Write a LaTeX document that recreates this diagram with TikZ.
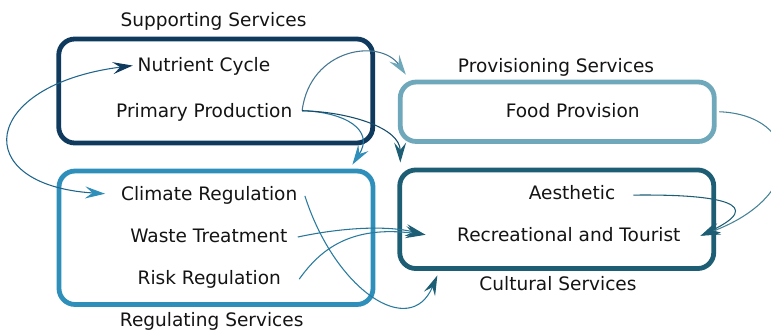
\documentclass[tikz,border=0pt]{standalone}
\usepackage{fontspec}
\setmainfont{DejaVu Sans}
\usetikzlibrary{arrows.meta}
\definecolor{navy}{RGB}{15,58,94}
\definecolor{provc}{RGB}{111,168,186}
\definecolor{regc}{RGB}{46,143,186}
\definecolor{cultc}{RGB}{30,94,117}
\definecolor{txt}{RGB}{20,20,20}
\begin{document}
\begin{tikzpicture}[x=0.75pt,y=-0.75pt,
  box/.style={draw=#1, line width=3.6pt, rounded corners=12pt, minimum width=235.5pt, inner sep=0pt, fill=white},
  lbl/.style={font=\fontsize{13.9}{16}\selectfont, inner sep=0pt, anchor=base, text=txt},
  edge/.style={line width=0.8pt, draw=#1},
  hd/.style={-{Stealth[length=15pt,width=9pt,inset=5.5pt,#1]}},
  hdtwo/.style 2 args={{Stealth[length=15pt,width=9pt,inset=5.5pt,#1]}-{Stealth[length=15pt,width=9pt,inset=5.5pt,#2]}}]
\useasboundingbox (0,0) rectangle (771,331);
\clip (0,0) rectangle (771,331);
% boxes
\node[box=navy, minimum height=78pt] (sup) at (215.75,91) {};
\node[box=provc, minimum height=44.6pt] (prov) at (557.25,111.75) {};
\node[box=regc, minimum height=100.1pt] (reg) at (216,237.75) {};
\node[box=cultc, minimum height=73.9pt] (cult) at (556.75,219.25) {};
% group labels
\node[lbl] (supl) at (213.5,27) {Supporting Services};
\node[lbl] (provl) at (556,72.3) {Provisioning Services};
\node[lbl] (regl) at (211.7,326) {Regulating Services};
\node[lbl] (cultl) at (558,290.7) {Cultural Services};
% items
\node[lbl] (nc) at (204,72) {Nutrient Cycle};
\node[lbl] (pp) at (204.2,117.3) {Primary Production};
\node[lbl] (fp) at (572.7,117.7) {Food Provision};
\node[lbl] (cr) at (209.2,201) {Climate Regulation};
\node[lbl] (wt) at (208.8,242.7) {Waste Treatment};
\node[lbl] (rr) at (209.3,284.3) {Risk Regulation};
\node[lbl] (ae) at (572,200) {Aesthetic};
\node[lbl] (rt) at (568.8,241.7) {Recreational and Tourist};
% edges
\coordinate (ppo) at ([shift={(7.2pt,1.1pt)}]pp.east);
\draw[edge=navy!45!provc, hd={color=provc}] (ppo) .. controls (310,48) and (380,38) .. ([shift={(6pt,3.75pt)}]prov.north west);
\draw[edge=navy!30!regc, hd={color=regc}] (ppo) .. controls (345,112) and (375,130) .. ([shift={(-17.25pt,3pt)}]reg.north east);
\draw[edge=navy!50!cultc, hd={color=cultc}] (ppo) .. controls (350,112) and (400,128) .. ([shift={(2.25pt,3.75pt)}]cult.north west);
\draw[edge=navy!50!regc, hdtwo={color=navy}{color=regc}] ([shift={(-3.5pt,1pt)}]nc.west) .. controls (-20,85) and (-32,185) .. ([shift={(-11.8pt,1.6pt)}]cr.west);
\draw[edge=provc!50!cultc, hd={color=cultc}] ([xshift=2pt]prov.east) .. controls (800,115) and (810,195) .. ([shift={(14.9pt,-0.75pt)}]rt.east);
\draw[edge=cultc, hd={color=cultc}] ([shift={(13.4pt,-1.5pt)}]ae.east) .. controls (725,194) and (765,205) .. ([shift={(14.9pt,-0.75pt)}]rt.east);
\draw[edge=regc!50!cultc, hd={color=cultc}] ([shift={(7.7pt,-0.7pt)}]wt.east) .. controls (340,228) and (385,225) .. ([xshift=-23.6pt]rt.west);
\draw[edge=regc!60!cultc, hd={color=cultc}] ([xshift=13.5pt]rr.east) .. controls (320,250) and (350,225) .. ([xshift=-23.6pt]rt.west);
\draw[edge=regc!60!cultc, hd={color=cultc}] ([xshift=5.5pt]cr.east) .. controls (335,290) and (410,340) .. ([shift={(30pt,-3.4pt)}]cult.south west);
\end{tikzpicture}
\end{document}
